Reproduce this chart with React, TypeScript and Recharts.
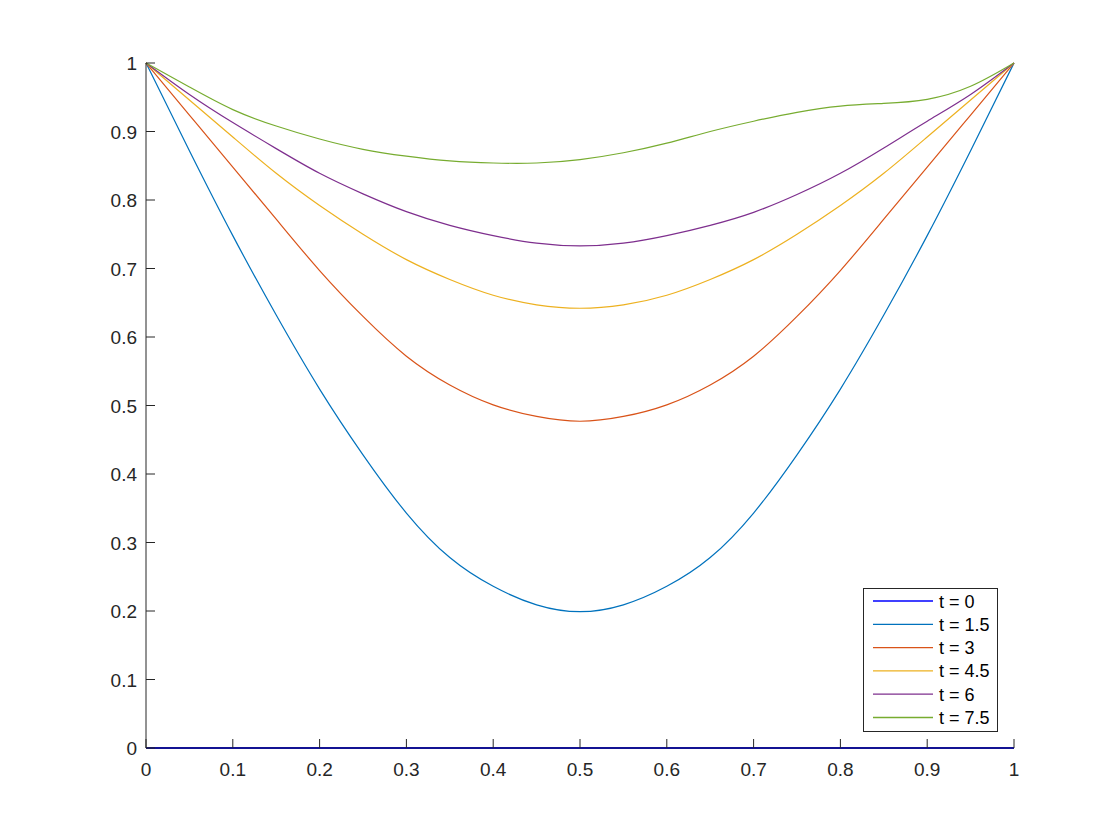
import { LineChart, Line, XAxis, YAxis, Legend } from "recharts";

const FONT = '"Liberation Sans", Arial, Helvetica, sans-serif';
const INK = "#262626";

// sample positions along x
const xs = [0, 0.05, 0.1, 0.15, 0.2, 0.25, 0.3, 0.35, 0.4, 0.45, 0.5, 0.55, 0.6, 0.65, 0.7, 0.75, 0.8, 0.85, 0.9, 0.95, 1];

// curves
const u0 = [0, 0, 0, 0, 0, 0, 0, 0, 0, 0, 0, 0, 0, 0, 0, 0, 0, 0, 0, 0, 0];
const u15 = [1, 0.872, 0.748, 0.632, 0.524, 0.428, 0.343, 0.278, 0.236, 0.209, 0.199, 0.209, 0.236, 0.278, 0.343, 0.428, 0.524, 0.632, 0.748, 0.872, 1];
const u3 = [1, 0.924, 0.848, 0.772, 0.697, 0.63, 0.572, 0.53, 0.501, 0.484, 0.477, 0.484, 0.501, 0.53, 0.572, 0.63, 0.697, 0.772, 0.848, 0.924, 1];
const u45 = [1, 0.946, 0.892, 0.839, 0.792, 0.75, 0.713, 0.684, 0.661, 0.647, 0.642, 0.647, 0.661, 0.684, 0.713, 0.75, 0.792, 0.839, 0.892, 0.946, 1];
const u6 = [1, 0.954, 0.913, 0.875, 0.839, 0.809, 0.783, 0.763, 0.748, 0.737, 0.733, 0.737, 0.748, 0.763, 0.782, 0.808, 0.839, 0.876, 0.915, 0.954, 1];
const u75 = [1, 0.965, 0.932, 0.908, 0.889, 0.874, 0.864, 0.857, 0.854, 0.854, 0.859, 0.869, 0.883, 0.9, 0.915, 0.928, 0.937, 0.941, 0.947, 0.966, 1];

const seriesNames = ["t = 0", "t = 1.5", "t = 3", "t = 4.5", "t = 6", "t = 7.5"];
const seriesColors = ["#0000ff", "#0072bd", "#d95319", "#edb120", "#7e2f8e", "#77ac30"];
const seriesValues = [u0, u15, u3, u45, u6, u75];

const xTicks = [0, 0.1, 0.2, 0.3, 0.4, 0.5, 0.6, 0.7, 0.8, 0.9, 1];
const yTicks = [0, 0.1, 0.2, 0.3, 0.4, 0.5, 0.6, 0.7, 0.8, 0.9, 1];

const data = xs.map((x, i) => {
  const row: Record<string, number> = { x };
  seriesValues.forEach((vals, k) => {
    row["s" + k] = vals[i];
  });
  return row;
});

function BottomTick(props: any) {
  const { x, y, payload } = props;
  return (
    <g>
      <line x1={x} y1={y} x2={x} y2={y - 9} stroke={INK} />
      <text x={x} y={y + 28} textAnchor="middle" fill={INK} fontSize={19} fontFamily={FONT}>
        {String(payload.value)}
      </text>
    </g>
  );
}

function TopTick(props: any) {
  const { x, y } = props;
  return <line x1={x} y1={y} x2={x} y2={y + 9} stroke={INK} />;
}

function LeftTick(props: any) {
  const { x, y, payload } = props;
  return (
    <g>
      <line x1={x} y1={y} x2={x + 9} y2={y} stroke={INK} />
      <text x={x - 9} y={y + 7} textAnchor="end" fill={INK} fontSize={19} fontFamily={FONT}>
        {String(payload.value)}
      </text>
    </g>
  );
}

function RightTick(props: any) {
  const { x, y } = props;
  return <line x1={x} y1={y} x2={x - 9} y2={y} stroke={INK} />;
}

// legend drawn as a boxed svg, one row per series
function LegendBox(props: any) {
  const items = props.payload || [];
  const rowH = 23.3;
  return (
    <div style={{ border: `1px solid ${INK}`, background: "#fff", width: 135, height: 144, boxSizing: "border-box" }}>
      <svg width={133} height={142} style={{ display: "block" }}>
        {items.map((p: any, i: number) => {
          const cy = 12 + i * rowH;
          return (
            <g key={p.value}>
              <line x1={9} y1={cy} x2={69} y2={cy} stroke={p.color} strokeWidth={1.3} />
              <text x={75} y={cy + 6.5} fontSize={18} fontFamily={FONT} fill="#000">
                {p.value}
              </text>
            </g>
          );
        })}
      </svg>
    </div>
  );
}

export default function App() {
  return (
    <div style={{ position: "absolute", left: 0, top: 0, width: 1120, height: 840, background: "#fff" }}>
      <LineChart width={1120} height={840} data={data} margin={{ top: 63, right: 106, bottom: 0, left: 0 }}>
        <XAxis
          dataKey="x"
          type="number"
          domain={[0, 1]}
          ticks={xTicks}
          interval={0}
          height={92}
          tickSize={0}
          tickMargin={0}
          tickLine={false}
          axisLine={{ stroke: INK }}
          tick={<BottomTick />}
        />
        <XAxis
          xAxisId="top"
          orientation="top"
          dataKey="x"
          type="number"
          domain={[0, 1]}
          ticks={xTicks}
          interval={0}
          height={0}
          tickSize={0}
          tickMargin={0}
          tickLine={false}
          axisLine={{ stroke: INK }}
          tick={<TopTick />}
        />
        <YAxis
          type="number"
          domain={[0, 1]}
          ticks={yTicks}
          interval={0}
          width={146}
          tickSize={0}
          tickMargin={0}
          tickLine={false}
          axisLine={{ stroke: INK }}
          tick={<LeftTick />}
        />
        <YAxis
          yAxisId="right"
          orientation="right"
          type="number"
          domain={[0, 1]}
          ticks={yTicks}
          interval={0}
          width={0}
          tickSize={0}
          tickMargin={0}
          tickLine={false}
          axisLine={{ stroke: INK }}
          tick={<RightTick />}
        />
        {seriesNames.map((name, k) => (
          <Line
            key={name}
            dataKey={"s" + k}
            name={name}
            type="natural"
            stroke={seriesColors[k]}
            strokeWidth={k === 0 ? 2 : 1.2}
            dot={false}
            activeDot={false}
            isAnimationActive={false}
          />
        ))}
        <Legend
          layout="vertical"
          align="center"
          verticalAlign="middle"
          content={<LegendBox />}
          wrapperStyle={{ left: 863, top: 588, width: 135 }}
        />
      </LineChart>
    </div>
  );
}
